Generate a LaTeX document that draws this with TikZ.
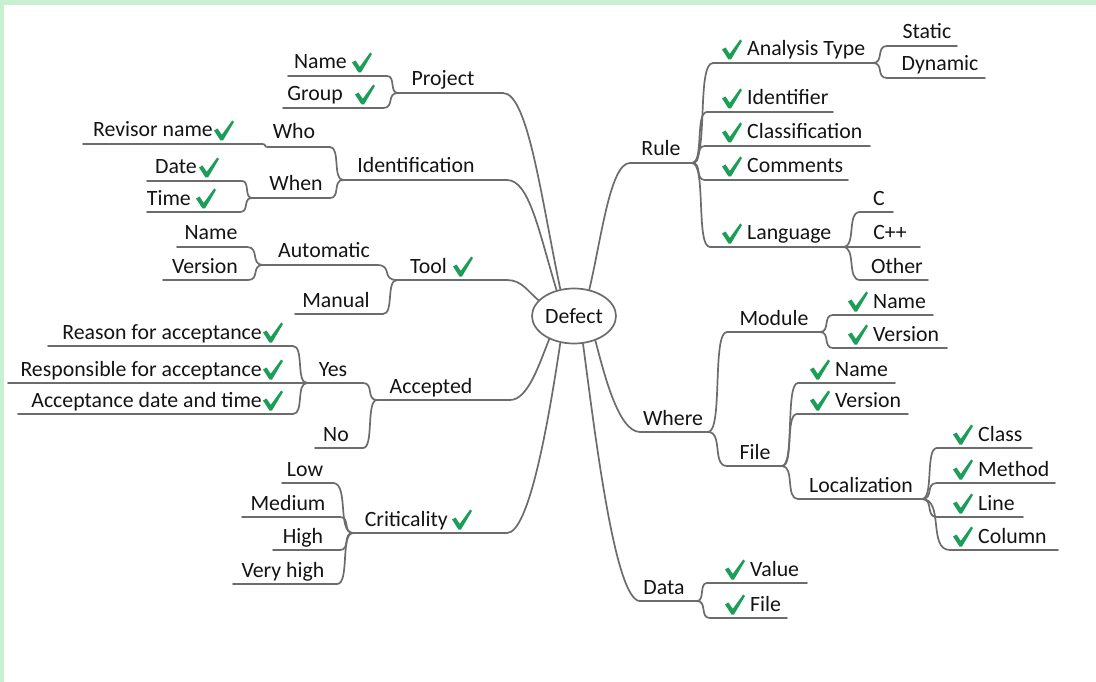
\documentclass[tikz,border=0pt]{standalone}
\usepackage{fontspec}
\setmainfont{Carlito}
\usetikzlibrary{shapes.geometric,calc}

\definecolor{strip}{RGB}{200,239,208}
\definecolor{linegray}{RGB}{108,108,108}
\definecolor{ink}{RGB}{20,20,20}
\definecolor{tick}{RGB}{28,158,88}

\tikzset{
  branch/.style={draw=linegray, line width=1.7pt, line cap=round},
  lbl/.style={inner sep=0pt, text=ink, font=\fontsize{21.8}{26}\selectfont},
  chk/.pic={\fill[tick] (0,-13.5) -- (3.5,-15.5) -- (7.8,-9.2) -- (18.2,-23.5) -- (20,-22) -- (9,-3.5) -- (6.5,-3.5) -- cycle;}
}

% underline of an item: name, left x, right x, y
\newcommand\mmline[4]{%
  \coordinate (#1L) at (#2,#4);
  \coordinate (#1R) at (#3,#4);
  \draw[branch] (#1L) -- (#1R);}
% S-shaped joint between two underline ends, horizontal at both ends
\newcommand\mmjoin[2]{%
  \draw[branch] (#1) .. controls ($(#1)!0.8!(#1-|#2)$) and ($(#2)!0.8!(#2-|#1)$) .. (#2);}

\begin{document}
\begin{tikzpicture}[x=1pt,y=-1pt]
\fill[white] (0,0) rectangle (1096,682);
\useasboundingbox (0,0) rectangle (1096,682);
\fill[strip] (0,0) rectangle (1096,5);
\fill[strip] (0,0) rectangle (4,682);

% central topic
\node[lbl, draw=linegray, line width=1.7pt, ellipse, minimum width=84pt, minimum height=55pt] (defect) at (574,316) {Defect};

% ---------- left side ----------
\mmline{pName}{288}{387}{76}
\node[lbl,anchor=base east] (pName) at (347,69) {Name};
\pic at (352,76) {chk};
\mmline{pGroup}{283}{383}{108}
\node[lbl,anchor=base east] (pGroup) at (343,101) {Group};
\pic at (355,108) {chk};
\mmline{Project}{398}{503}{93}
\node[lbl,anchor=base] (Project) at (443,86) {Project};

\mmline{rName}{83}{262}{144}
\node[lbl,anchor=base east] (rName) at (213,137) {Revisor name};
\pic at (214,144) {chk};
\mmline{Who}{268}{330}{147}
\node[lbl,anchor=base] (Who) at (294,139) {Who};
\mmline{Ident}{343}{507}{180}
\node[lbl,anchor=base] (Ident) at (416,173) {Identification};
\mmline{When}{252}{330}{198}
\node[lbl,anchor=base] (When) at (296,191) {When};
\mmline{Date}{147}{242}{181}
\node[lbl,anchor=base east] (Date) at (197,174) {Date};
\pic at (199,181) {chk};
\mmline{Time}{147}{240}{212}
\node[lbl,anchor=base east] (Time) at (191,205) {Time};
\pic at (196,212) {chk};

\mmline{aName}{177}{247}{247}
\node[lbl,anchor=base] (aName) at (211,240) {Name};
\mmline{aVer}{163}{248}{280}
\node[lbl,anchor=base] (aVer) at (205,273) {Version};
\mmline{Auto}{263}{377}{265}
\node[lbl,anchor=base] (Auto) at (324,258) {Automatic};
\mmline{Manual}{295}{383}{314}
\node[lbl,anchor=base] (Manual) at (336,307) {Manual};
\mmline{Tool}{397}{507}{280}
\node[lbl,anchor=base east] (Tool) at (447,273) {Tool};
\pic at (453,280) {chk};

\mmline{Reason}{48}{293}{346}
\node[lbl,anchor=base east] (Reason) at (262,339) {Reason for acceptance};
\pic at (263,346) {chk};
\mmline{Resp}{8}{307}{383}
\node[lbl,anchor=base east] (Resp) at (262,376) {Responsible for acceptance};
\pic at (263,383) {chk};
\mmline{AccDate}{18}{293}{414}
\node[lbl,anchor=base east] (AccDate) at (262,407) {Acceptance date and time};
\pic at (263,414) {chk};
\mmline{Yes}{307}{363}{383}
\node[lbl,anchor=base] (Yes) at (333,376) {Yes};
\mmline{No}{315}{363}{448}
\node[lbl,anchor=base] (No) at (336,441) {No};
\mmline{Accepted}{377}{510}{400}
\node[lbl,anchor=base] (Accepted) at (431,393) {Accepted};

\mmline{Low}{282}{333}{483}
\node[lbl,anchor=base] (Low) at (305,476) {Low};
\mmline{Medium}{242}{340}{517}
\node[lbl,anchor=base] (Medium) at (288,510) {Medium};
\mmline{High}{273}{340}{550}
\node[lbl,anchor=base] (High) at (303,543) {High};
\mmline{VHigh}{233}{337}{584}
\node[lbl,anchor=base] (VHigh) at (283,577) {Very high};
\mmline{Crit}{353}{507}{533}
\node[lbl,anchor=base east] (Crit) at (448,526) {Criticality};
\pic at (452,533) {chk};

% joints, left side
\mmjoin{pNameR}{ProjectL}
\mmjoin{pGroupR}{ProjectL}
\mmjoin{rNameR}{WhoL}
\mmjoin{WhoR}{IdentL}
\mmjoin{WhenR}{IdentL}
\mmjoin{DateR}{WhenL}
\mmjoin{TimeR}{WhenL}
\mmjoin{aNameR}{AutoL}
\mmjoin{aVerR}{AutoL}
\mmjoin{AutoR}{ToolL}
\mmjoin{ManualR}{ToolL}
\mmjoin{ReasonR}{YesL}
\mmjoin{AccDateR}{YesL}
\mmjoin{YesR}{AcceptedL}
\mmjoin{NoR}{AcceptedL}
\mmjoin{LowR}{CritL}
\mmjoin{MediumR}{CritL}
\mmjoin{HighR}{CritL}
\mmjoin{VHighR}{CritL}

% ---------- right side ----------
\mmline{Rule}{630}{692}{163}
\node[lbl,anchor=base] (Rule) at (661,156) {Rule};
\mmline{AT}{713}{873}{63}
\node[lbl,anchor=base west] (AT) at (747,56) {Analysis Type};
\pic at (722,63) {chk};
\mmline{Static}{887}{957}{46}
\node[lbl,anchor=base] (Static) at (927,39) {Static};
\mmline{Dynamic}{887}{985}{78}
\node[lbl,anchor=base] (Dynamic) at (940,71) {Dynamic};
\mmline{Identifier}{707}{833}{112}
\node[lbl,anchor=base west] (Identifier) at (747,105) {Identifier};
\pic at (722,112) {chk};
\mmline{Classif}{705}{870}{146}
\node[lbl,anchor=base west] (Classif) at (747,139) {Classification};
\pic at (722,146) {chk};
\mmline{Comments}{705}{848}{180}
\node[lbl,anchor=base west] (Comments) at (747,173) {Comments};
\pic at (722,180) {chk};
\mmline{Language}{710}{843}{247}
\node[lbl,anchor=base west] (Language) at (747,240) {Language};
\pic at (722,247) {chk};
\mmline{C}{860}{893}{212}
\node[lbl,anchor=base] (C) at (879,205) {C};
\mmline{Cpp}{843}{920}{247}
\node[lbl,anchor=base] (Cpp) at (890,240) {C++};
\mmline{Other}{860}{928}{280}
\node[lbl,anchor=base] (Other) at (897,273) {Other};

\mmline{Where}{640}{708}{432}
\node[lbl,anchor=base] (Where) at (673,425) {Where};
\mmline{Module}{727}{820}{332}
\node[lbl,anchor=base] (Module) at (774,325) {Module};
\mmline{mName}{833}{933}{315}
\node[lbl,anchor=base west] (mName) at (873,308) {Name};
\pic at (848,315) {chk};
\mmline{mVer}{833}{947}{348}
\node[lbl,anchor=base west] (mVer) at (873,341) {Version};
\pic at (848,348) {chk};
\mmline{File}{727}{782}{466}
\node[lbl,anchor=base] (File) at (755,459) {File};
\mmline{fName}{798}{895}{383}
\node[lbl,anchor=base west] (fName) at (835,376) {Name};
\pic at (810,383) {chk};
\mmline{fVer}{797}{908}{414}
\node[lbl,anchor=base west] (fVer) at (835,407) {Version};
\pic at (810,414) {chk};
\mmline{Loc}{798}{922}{499}
\node[lbl,anchor=base] (Loc) at (861,492) {Localization};
\mmline{Class}{937}{1032}{448}
\node[lbl,anchor=base west] (Class) at (978,441) {Class};
\pic at (953,448) {chk};
\mmline{Method}{937}{1055}{483}
\node[lbl,anchor=base west] (Method) at (978,476) {Method};
\pic at (953,483) {chk};
\mmline{Line}{937}{1023}{517}
\node[lbl,anchor=base west] (Line) at (978,510) {Line};
\pic at (953,517) {chk};
\mmline{Column}{950}{1058}{550}
\node[lbl,anchor=base west] (Column) at (978,543) {Column};
\pic at (953,550) {chk};

\mmline{Data}{640}{697}{601}
\node[lbl,anchor=base] (Data) at (664,594) {Data};
\mmline{Value}{707}{807}{583}
\node[lbl,anchor=base west] (Value) at (750,576) {Value};
\pic at (725,583) {chk};
\mmline{dFile}{710}{787}{618}
\node[lbl,anchor=base west] (dFile) at (750,611) {File};
\pic at (725,618) {chk};

% joints, right side
\mmjoin{RuleR}{ATL}
\mmjoin{RuleR}{IdentifierL}
\mmjoin{RuleR}{ClassifL}
\mmjoin{RuleR}{CommentsL}
\mmjoin{RuleR}{LanguageL}
\mmjoin{ATR}{StaticL}
\mmjoin{ATR}{DynamicL}
\mmjoin{LanguageR}{CL}
\mmjoin{LanguageR}{OtherL}
\mmjoin{WhereR}{ModuleL}
\mmjoin{WhereR}{FileL}
\mmjoin{ModuleR}{mNameL}
\mmjoin{ModuleR}{mVerL}
\mmjoin{FileR}{fNameL}
\mmjoin{FileR}{fVerL}
\mmjoin{FileR}{LocL}
\mmjoin{LocR}{ClassL}
\mmjoin{LocR}{MethodL}
\mmjoin{LocR}{LineL}
\mmjoin{LocR}{ColumnL}
\mmjoin{DataR}{ValueL}
\mmjoin{DataR}{dFileL}

% main branches into the central ellipse
\draw[branch] (ProjectR) .. controls ($(ProjectR)+(25,0)$) and ($(defect.117)+(-19,-90)$) .. (defect.117);
\draw[branch] (IdentR) .. controls ($(IdentR)+(22,0)$) and ($(defect.124)+(-18,-60)$) .. (defect.124);
\draw[branch] (ToolR) .. controls ($(ToolR)+(15,0)$) and ($(defect.156)+(-10,-8)$) .. (defect.156);
\draw[branch] (AcceptedR) .. controls ($(AcceptedR)+(18,0)$) and ($(defect.223)+(-10,25)$) .. (defect.223);
\draw[branch] (CritR) .. controls ($(CritR)+(22,0)$) and ($(defect.243)+(-12,80)$) .. (defect.243);
\draw[branch] (RuleL) .. controls ($(RuleL)+(-20,0)$) and ($(defect.60)+(12,-50)$) .. (defect.60);
\draw[branch] (WhereL) .. controls ($(WhereL)+(-22,0)$) and ($(defect.311)+(8,30)$) .. (defect.311);
\draw[branch] (DataL) .. controls ($(DataL)+(-25,0)$) and ($(defect.288)+(12,90)$) .. (defect.288);
\end{tikzpicture}
\end{document}
